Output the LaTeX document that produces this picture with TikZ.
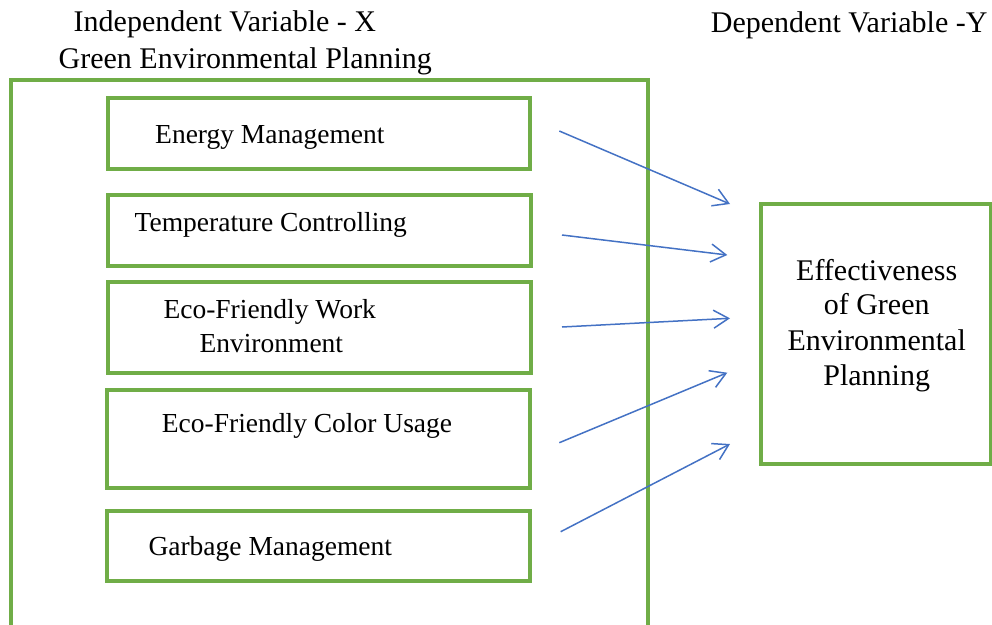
\documentclass[tikz,border=0pt]{standalone}
\usepackage{fontspec}
\setmainfont{Liberation Serif}
\usetikzlibrary{arrows.meta}
\definecolor{grn}{HTML}{70AD47}
\definecolor{blu}{HTML}{4472C4}
\tikzset{
  gbox/.style={draw=grn, line width=4pt, inner sep=0pt, outer sep=0pt, anchor=north west},
  itext/.style={anchor=base west, inner sep=0pt, font=\fontsize{27.5}{31}\selectfont},
  htext/.style={anchor=base west, inner sep=0pt, font=\fontsize{30}{34.5}\selectfont},
  etext/.style={anchor=base, inner sep=0pt, font=\fontsize{30}{34.5}\selectfont},
  arr/.style={draw=blu, line width=1.5pt, -{Straight Barb[length=15pt,width=18pt,line width=1.5pt]}}
}
\begin{document}
\begin{tikzpicture}[x=1pt,y=-1pt]
\useasboundingbox (0,0) rectangle (992,624);
\clip (0,0) rectangle (992,624);
% headings
\node[htext] (h1) at (73.5,31.7) {Independent Variable - X};
\node[htext] (h2) at (58.5,68.3) {Green Environmental Planning};
\node[htext] (h3) at (710.7,32.3) {Dependent Variable -Y};
% outer frame
\node[gbox, minimum width=637.5pt, minimum height=580pt] (outer) at (10.5,79.5) {};
% inner boxes
\node[gbox, minimum width=422.5pt, minimum height=70.3pt] (b1) at (107.5,98.4) {};
\node[gbox, minimum width=423pt, minimum height=71pt] (b2) at (107.5,195) {};
\node[gbox, minimum width=422.5pt, minimum height=91pt] (b3) at (108,281.7) {};
\node[gbox, minimum width=422.5pt, minimum height=98.3pt] (b4) at (107,390) {};
\node[gbox, minimum width=423pt, minimum height=70.3pt] (b5) at (107,510.7) {};
% inner texts
\node[itext] (t1) at (155,143.3) {Energy Management};
\node[itext] (t2) at (134.5,231.7) {Temperature Controlling};
\node[itext] (t3a) at (163.3,318.3) {Eco-Friendly Work};
\node[itext] (t3b) at (199.3,352.7) {Environment};
\node[itext] (t4) at (161.7,432.7) {Eco-Friendly Color Usage};
\node[itext] (t5) at (148.3,555) {Garbage Management};
% right box
\node[gbox, minimum width=230pt, minimum height=260pt] (eff) at (760.7,204.3) {};
\node[etext] (e1) at (876.7,280) {Effectiveness};
\node[etext] (e2) at (876.7,314.3) {of Green};
\node[etext] (e3) at (876.7,350) {Environmental};
\node[etext] (e4) at (876.7,385.7) {Planning};
% arrows
\coordinate (s1) at (559.3,131);   \coordinate (f1) at (730,204);
\coordinate (s2) at (562,235);     \coordinate (f2) at (727.3,255);
\coordinate (s3) at (562,327);     \coordinate (f3) at (730,318.3);
\coordinate (s4) at (559.3,442.7); \coordinate (f4) at (727.3,372.7);
\coordinate (s5) at (560.7,531.7); \coordinate (f5) at (730,444);
\draw[arr] (s1) -- (f1);
\draw[arr] (s2) -- (f2);
\draw[arr] (s3) -- (f3);
\draw[arr] (s4) -- (f4);
\draw[arr] (s5) -- (f5);
\end{tikzpicture}
\end{document}
